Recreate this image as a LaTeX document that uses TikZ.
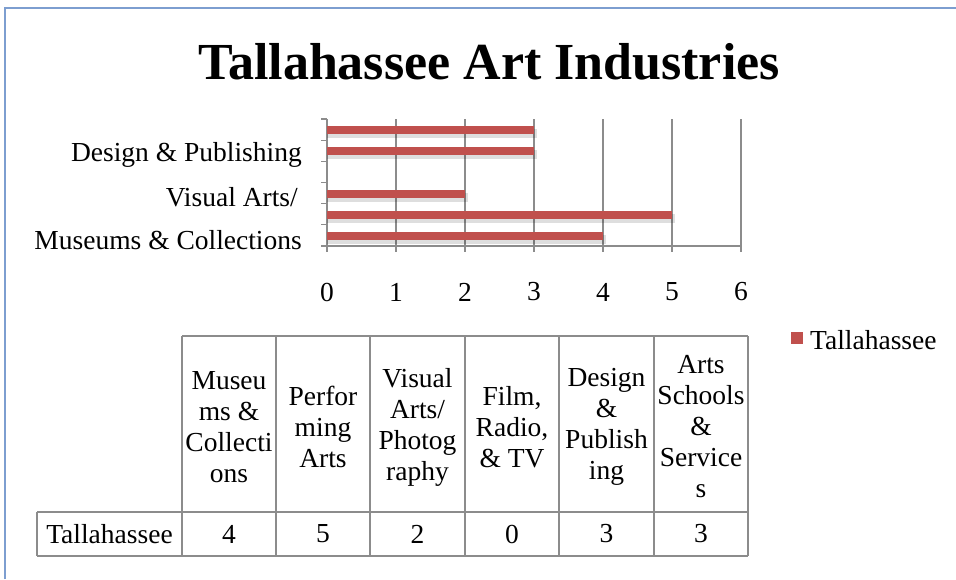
\documentclass[tikz,border=0pt]{standalone}
\usepackage{fontspec}
\setmainfont{Liberation Serif}
\definecolor{barred}{RGB}{192,80,77}
\definecolor{gridgray}{RGB}{140,140,140}
\definecolor{frameblue}{RGB}{125,158,208}
\begin{document}
\begin{tikzpicture}[x=1pt, y=-1pt, bar/.style={fill=barred, draw=none}]
        \tikzset{txt/.style={font=\fontsize{27.5}{31}\selectfont, inner sep=0pt, align=center},
                 cell/.style={draw=gridgray, line width=1.4pt}};
        \useasboundingbox (0, 0) rectangle (956, 579);
        \draw[frameblue, line width=2pt] (5, 579) -- (5, 8) -- (956, 8);

        \node[font=\fontsize{52}{60}\selectfont\bfseries] (title) at (489, 62) {Tallahassee Art Industries};

        % grid and axes
        \foreach \i in {1, ..., 6}
            \draw[gridgray, line width=1.2pt] (327 + 69*\i, 119) -- (327 + 69*\i, 252);
        \draw[gridgray, line width=1.2pt] (327, 246) -- (741, 246);
        \draw[gridgray, line width=1.2pt] (327, 119) -- (327, 252);
        \foreach \j in {0, ..., 6}
            \draw[gridgray, line width=1.2pt] (321, 119 + 21.17*\j) -- (327, 119 + 21.17*\j);

        % bars with their shadows
        \fill[black, opacity=0.13] (327, 129) rectangle (537, 138);
        \fill[black, opacity=0.13] (327, 150) rectangle (537, 159);
        \fill[black, opacity=0.13] (327, 192.5) rectangle (468, 201.5);
        \fill[black, opacity=0.13] (327, 213.5) rectangle (675, 222.5);
        \fill[black, opacity=0.13] (327, 234.5) rectangle (606, 243.5);
        \draw[bar] (327, 126) rectangle (534, 134);
        \draw[bar] (327, 147) rectangle (534, 155);
        \draw[bar] (327, 189.5) rectangle (465, 197.5);
        \draw[bar] (327, 210.5) rectangle (672, 218.5);
        \draw[bar] (327, 231.5) rectangle (603, 239.5);

        \node[txt, anchor=east] (cat5) at (302, 155) {Design \& Publishing};
        \node[txt, anchor=east] (cat3) at (298, 197) {Visual Arts/};
        \node[txt, anchor=east] (cat1) at (302, 240) {Museums \& Collections};

        \node[txt] (x0) at (327, 292) {0};
        \node[txt] (x1) at (396, 292) {1};
        \node[txt] (x2) at (465, 292) {2};
        \node[txt] (x3) at (534, 292) {3};
        \node[txt] (x4) at (603, 292) {4};
        \node[txt] (x5) at (672, 292) {5};
        \node[txt] (x6) at (741, 292) {6};

        % data table
        \draw[cell] (182, 336) -- (748, 336);
        \draw[cell] (37, 512) -- (748, 512);
        \draw[cell] (37, 556) -- (748, 556);
        \draw[cell] (37, 512) -- (37, 556);
        \draw[cell] (182, 336) -- (182, 556);
        \draw[cell] (276, 336) -- (276, 556);
        \draw[cell] (370, 336) -- (370, 556);
        \draw[cell] (465, 336) -- (465, 556);
        \draw[cell] (559, 336) -- (559, 556);
        \draw[cell] (654, 336) -- (654, 556);
        \draw[cell] (748, 336) -- (748, 556);

        \node[txt] (h1) at (229, 427) {Museu\\ms \&\\Collecti\\ons};
        \node[txt] (h2) at (323, 427) {Perfor\\ming\\Arts};
        \node[txt] (h3) at (417.5, 427) {Visual\\Arts/\\Photog\\raphy};
        \node[txt] (h4) at (512, 427) {Film,\\Radio,\\\& TV};
        \node[txt] (h5) at (606.5, 427) {Design\\\&\\Publish\\ing};
        \node[txt] (h6) at (701, 427) {Arts\\Schools\\\&\\Service\\s};

        \node[txt] (row) at (109.5, 534) {Tallahassee};
        \node[txt] (v1) at (229, 534) {4};
        \node[txt] (v2) at (323, 534) {5};
        \node[txt] (v3) at (417.5, 534) {2};
        \node[txt] (v4) at (512, 534) {0};
        \node[txt] (v5) at (606.5, 534) {3};
        \node[txt] (v6) at (701, 534) {3};

        % legend
        \fill[barred] (791, 332) rectangle (803, 344);
        \node[txt, anchor=west] (key) at (810, 340) {Tallahassee};
    \end{tikzpicture}
\end{document}
